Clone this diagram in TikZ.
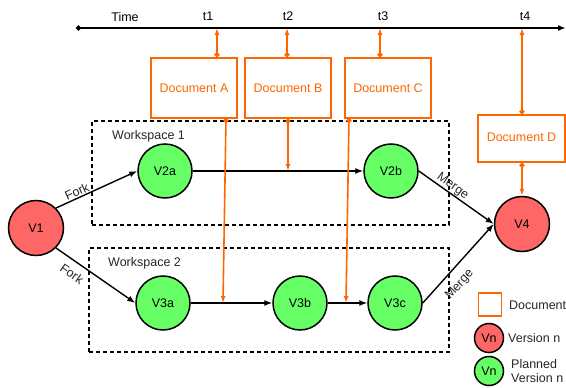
\documentclass[tikz,border=0pt]{standalone}
\usepackage{fontspec}
\setmainfont{Liberation Sans}
\usetikzlibrary{arrows.meta}
\definecolor{org}{RGB}{255,102,0}
\definecolor{redfill}{RGB}{255,102,102}
\definecolor{greenfill}{RGB}{102,255,102}
\begin{document}
\begin{tikzpicture}[x=1pt,y=-1pt,font=\fontsize{12.5}{13.5}\selectfont,
  docbox/.style={draw=org,line width=1.6pt,text=org,minimum width=86pt,minimum height=60pt,inner sep=0pt},
  vred/.style={circle,draw=black,line width=1.5pt,fill=redfill,minimum size=55pt,inner sep=0pt},
  vgreen/.style={circle,draw=black,line width=1.5pt,fill=greenfill,minimum size=54pt,inner sep=0pt},
  wsbox/.style={draw=black,line width=1.6pt,dash pattern=on 4pt off 3pt,inner sep=0pt},
  edge/.style={draw=black,line width=1.4pt,-{Latex[length=8pt,width=6pt]}},
  oline/.style={draw=org,line width=1.6pt,{Circle[length=5pt]}-{Latex[length=7pt,width=5pt]}},
  elabel/.style={text=black!85}]
\useasboundingbox (0,0) rectangle (566,388);

% timeline
\coordinate (tl0) at (76,28);
\coordinate (tl1) at (566,28);
\draw[line width=1.6pt,{Circle[length=5pt]}-{Latex[length=8pt,width=6pt]}] (tl0) -- (tl1);
\node (time) at (125,17) {Time};
\node (lt1) at (208,16) {t1};
\node (lt2) at (288,16) {t2};
\node (lt3) at (383,16) {t3};
\node (lt4) at (525,16) {t4};
\coordinate (t1) at (217,28);
\coordinate (t2) at (287,28);
\coordinate (t3) at (380,28);
\coordinate (t4) at (522,28);

% workspaces
\node[wsbox,minimum width=357pt,minimum height=104pt] (ws1) at (270.5,173) {};
\node[wsbox,minimum width=360pt,minimum height=104pt] (ws2) at (269,300) {};
\node[anchor=west,inner sep=0pt,text=black!85] (ws1l) at (112,136) {Workspace 1};
\node[anchor=west,inner sep=0pt,text=black!85] (ws2l) at (108,263) {Workspace 2};

% documents
\node[docbox] (docA) at (194,88) {Document A};
\node[docbox] (docB) at (288,88) {Document B};
\node[docbox] (docC) at (388,88) {Document C};
\node[docbox,minimum width=87pt,minimum height=47pt] (docD) at (521.5,138.5) {\raisebox{3pt}{Document D}};

% version nodes
\node[vred] (V1) at (36,228) {V1};
\node[vgreen] (V2a) at (165,171) {V2a};
\node[vgreen] (V2b) at (391,171) {V2b};
\node[vred] (V4) at (522,224) {V4};
\node[vgreen] (V3a) at (163,303) {V3a};
\node[vgreen] (V3b) at (300,303) {V3b};
\node[vgreen] (V3c) at (395,303) {V3c};

% edges
\draw[edge] (V1.north east) -- node[elabel,pos=0.29,sloped,above=1pt,inner sep=0pt] {Fork} (V2a.west);
\draw[edge] (V1.south east) -- node[elabel,pos=0.29,sloped,below=6pt,inner sep=1pt] {Fork} (V3a.west);
\draw[edge] (V2a.east) -- (V2b.west);
\draw[edge] (V3a.east) -- (V3b.west);
\draw[edge] (V3b.east) -- (V3c.west);
\draw[edge] (V2b.east) -- node[elabel,pos=0.40,sloped,above=0.5pt,inner sep=0pt] {Merge} (V4.west);
\draw[edge] (V3c.east) -- node[elabel,pos=0.36,sloped,below=8pt,inner sep=1pt] {Merge} (V4.west);

% document to timeline
\draw[oline] (docA.north -| t1) -- (t1);
\draw[oline] (docB.north -| t2) -- (t2);
\draw[oline] (docC.north -| t3) -- (t3);
\draw[oline] (docD.north -| t4) -- (t4);

% document to edges
\coordinate (pa0) at (226,118);
\coordinate (pa1) at (223,303);
\coordinate (pb1) at (288,171);
\coordinate (pc0) at (349,118);
\coordinate (pc1) at (346,303);
\draw[oline] (pa0) -- (pa1);
\draw[oline] (docB.south) -- (pb1);
\draw[oline] (pc0) -- (pc1);
\draw[oline] (docD.south -| V4.north) -- (V4.north);

% legend
\node[draw=org,line width=1.6pt,minimum width=23pt,minimum height=23pt,inner sep=0pt] (legdoc) at (490,304.5) {};
\node[anchor=west,inner sep=0pt,text=black!85] (legdoct) at (509,305) {Document};
\node[vred,minimum size=29pt] (legred) at (489,338) {Vn};
\node[anchor=west,inner sep=0pt,text=black!85] (legredt) at (508,338) {Version n};
\node[vgreen,minimum size=29pt] (leggreen) at (489,371) {Vn};
\node[anchor=west,inner sep=0pt,text=black!85,align=left] (leggreent) at (511,371) {Planned\\Version n};
\end{tikzpicture}
\end{document}
